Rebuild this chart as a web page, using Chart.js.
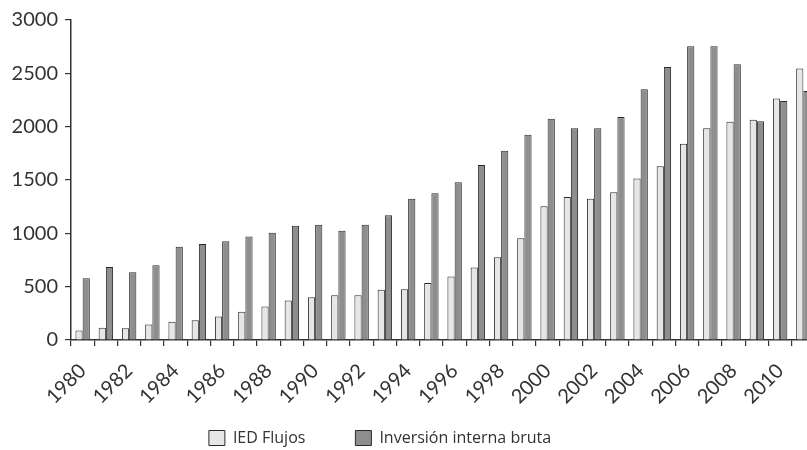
<!DOCTYPE html>
<html>
<head>
<meta charset="utf-8">
<script src="https://cdn.jsdelivr.net/npm/chart.js@4/dist/chart.umd.min.js"></script>
<style>
  html, body { margin: 0; padding: 0; background: #fff; overflow: hidden; width: 807px; height: 450px; }
  #wrap { position: absolute; left: -60px; top: 0; width: 880px; height: 450px; }
</style>
</head>
<body>
<div id="wrap"><canvas id="c" width="880" height="450"></canvas></div>
<script>
const years = ['1980','1981','1982','1983','1984','1985','1986','1987','1988','1989',
               '1990','1991','1992','1993','1994','1995','1996','1997','1998','1999',
               '2000','2001','2002','2003','2004','2005','2006','2007','2008','2009',
               '2010','2011'];
const iedFlujos = [90, 115, 110, 145, 170, 185, 220, 265, 315, 370,
                   400, 420, 420, 470, 475, 535, 595, 680, 775, 955,
                   1255, 1340, 1325, 1385, 1515, 1630, 1840, 1985, 2045, 2065,
                   2265, 2545];
const inversionBruta = [580, 685, 635, 700, 875, 900, 925, 970, 1005, 1070,
                        1080, 1025, 1080, 1170, 1325, 1375, 1480, 1640, 1775, 1925,
                        2075, 1985, 1985, 2090, 2350, 2560, 2755, 2755, 2585, 2050,
                        2240, 2335];
const seriesNames = ['IED Flujos', 'Inversión interna bruta'];
const yTicks = [0, 500, 1000, 1500, 2000, 2500, 3000];

const AXFONT = "Lato, 'Open Sans', sans-serif";
const LGFONT = "'Open Sans', 'DejaVu Sans', sans-serif";
const INK = '#333333';

const legendLift = {
  id: 'legendLift',
  afterLayout(chart) {
    const lg = chart.legend;
    if (lg) { lg.top -= 35; lg.bottom -= 35; }
  }
};

new Chart(document.getElementById('c'), {
  type: 'bar',
  data: {
    labels: years,
    datasets: [
      { label: seriesNames[0], data: iedFlujos, backgroundColor: '#e6e6e7', borderColor: '#2b2b2b', borderWidth: 1 },
      { label: seriesNames[1], data: inversionBruta, backgroundColor: '#8e8e90', borderColor: '#2b2b2b', borderWidth: 1 }
    ]
  },
  plugins: [legendLift],
  options: {
    responsive: false,
    animation: false,
    devicePixelRatio: 1,
    layout: { padding: { left: 5, right: 5, top: 20, bottom: -41 } },
    datasets: { bar: { categoryPercentage: 0.62, barPercentage: 1.0 } },
    scales: {
      x: {
        afterFit: s => { s.height = 75; s.paddingLeft = 0; s.paddingRight = 0; },
        border: { display: true, color: INK, width: 1.5 },
        grid: { display: true, drawOnChartArea: false, drawTicks: true, tickLength: 6, color: INK, lineWidth: 1.2, offset: true },
        ticks: {
          autoSkip: false, maxRotation: 45, minRotation: 45, padding: 13,
          color: INK, font: { family: AXFONT, size: 20, weight: 400 },
          callback: (v, i) => (i % 2 === 0 ? years[i] : '')
        }
      },
      y: {
        min: 0, max: 3000,
        afterFit: s => { s.width = 126; },
        afterBuildTicks: s => { s.ticks = yTicks.map(v => ({ value: v })); },
        border: { display: true, color: INK, width: 1.5 },
        grid: { display: true, drawOnChartArea: false, drawTicks: true, tickLength: 6, color: INK, lineWidth: 1.2 },
        ticks: { padding: 7, color: INK, font: { family: AXFONT, size: 20, weight: 400 }, callback: v => String(v) }
      }
    },
    plugins: {
      tooltip: { enabled: false },
      legend: {
        position: 'bottom',
        labels: {
          boxWidth: 16, boxHeight: 15, padding: 50,
          color: INK, font: { family: LGFONT, size: 16 }
        }
      }
    }
  }
});
</script>
</body>
</html>
